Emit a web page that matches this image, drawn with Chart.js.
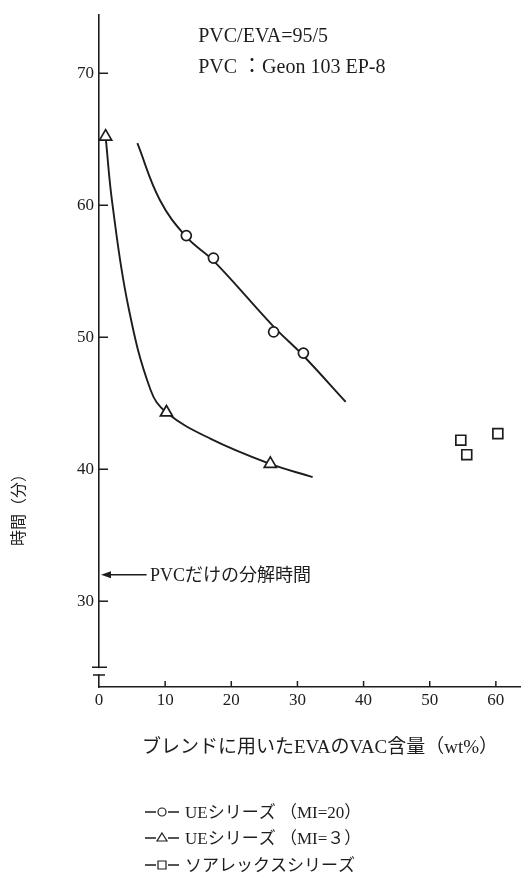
<!DOCTYPE html>
<html>
<head>
<meta charset="utf-8">
<script src="https://cdn.jsdelivr.net/npm/chart.js@4.4.1/dist/chart.umd.min.js"></script>
<style>
  html, body { margin: 0; padding: 0; background: #fff; }
  #wrap { width: 521px; height: 885px; }
</style>
</head>
<body>
<div id="wrap"><canvas id="chart" width="521" height="885"></canvas></div>
<script>
// values
const xTicks = [0, 10, 20, 30, 40, 50, 60];
const yTicks = [30, 40, 50, 60, 70];

// UE series (MI=20): measured points and the drawn curve
const ue20X = [13.2, 17.3, 26.4, 30.9];
const ue20Y = [57.7, 56.0, 50.4, 48.8];
const ue20CurveX = [5.8, 9.2, 13.2, 17.3, 26.4, 30.9, 37.3];
const ue20CurveY = [64.7, 60.4, 57.6, 55.8, 50.8, 48.6, 45.1];

// UE series (MI=3)
const ue3X = [1.0, 10.2, 25.9];
const ue3Y = [65.2, 44.3, 40.4];
const ue3CurveX = [1.0, 2.0, 4.4, 7.8, 10.2, 16.9, 25.9, 32.3];
const ue3CurveY = [65.2, 60.2, 52.4, 46.0, 44.3, 42.3, 40.4, 39.4];

// Soarex series
const solX = [54.7, 55.6, 60.3];
const solY = [42.2, 41.1, 42.7];

// PVC alone decomposition time
const pvcOnly = 32;

const seriesNames = ['UEシリーズ （MI=20）', 'UEシリーズ （MI=３）', 'ソアレックスシリーズ'];
const xTitle = 'ブレンドに用いたEVAのVAC含量（wt%）';
const yTitle = '時間（分）';

const ink = '#1d1d1d';
const serif = '"Liberation Serif", "DejaVu Serif", "Noto Sans CJK JP", serif';
const jp = '"Liberation Serif", "Noto Sans CJK JP", sans-serif';

const pts = (xs, ys) => xs.map((x, i) => ({ x: x, y: ys[i] }));

function markerSet(label, xs, ys, style, r) {
  return {
    type: 'scatter', label: label, data: pts(xs, ys), order: 0,
    pointStyle: style, pointRadius: r, pointBorderWidth: 1.7,
    pointBackgroundColor: '#fff', pointBorderColor: ink, showLine: false
  };
}
function curveSet(xs, ys) {
  return {
    type: 'line', label: '', data: pts(xs, ys), order: 1,
    borderColor: ink, borderWidth: 1.9, pointRadius: 0,
    tension: 0.4, fill: false
  };
}

// small bits of the figure that Chart.js has no option for
const decor = {
  id: 'decor',
  afterDraw(chart) {
    const ctx = chart.ctx;
    const xs = chart.scales.x, ys = chart.scales.y;
    const a = chart.chartArea;
    ctx.save();
    ctx.strokeStyle = ink;
    ctx.fillStyle = ink;
    ctx.lineWidth = 1.5;

    // inward tick marks
    yTicks.forEach(v => {
      const y = ys.getPixelForValue(v);
      ctx.beginPath(); ctx.moveTo(a.left - 1, y); ctx.lineTo(a.left + 9, y); ctx.stroke();
    });
    xTicks.slice(1).forEach(v => {
      const x = xs.getPixelForValue(v);
      ctx.beginPath(); ctx.moveTo(x, a.bottom); ctx.lineTo(x, a.bottom - 6); ctx.stroke();
    });

    // axis break near the bottom of the time axis
    const b1 = ys.getPixelForValue(25.0), b2 = ys.getPixelForValue(24.4);
    ctx.fillStyle = '#fff';
    ctx.fillRect(a.left - 3, b1 + 1, 6, b2 - b1 - 2);
    ctx.fillStyle = ink;
    ctx.beginPath();
    ctx.moveTo(a.left - 7, b1); ctx.lineTo(a.left + 8, b1);
    ctx.moveTo(a.left - 6, b2); ctx.lineTo(a.left + 6, b2);
    ctx.stroke();

    // arrow for PVC alone
    const ay = ys.getPixelForValue(pvcOnly);
    const ax0 = xs.getPixelForValue(0.3), ax1 = xs.getPixelForValue(7.2);
    ctx.beginPath(); ctx.moveTo(ax0 + 8, ay); ctx.lineTo(ax1, ay); ctx.stroke();
    ctx.beginPath();
    ctx.moveTo(ax0, ay); ctx.lineTo(ax0 + 10, ay - 3.5); ctx.lineTo(ax0 + 10, ay + 3.5);
    ctx.closePath(); ctx.fill();
    ctx.textAlign = 'left';
    ctx.textBaseline = 'middle';
    ctx.font = '18px ' + jp;
    ctx.fillText('PVCだけの分解時間', xs.getPixelForValue(7.7), ay + 1);

    // header notes
    ctx.font = '20px ' + serif;
    ctx.fillText('PVC/EVA=95/5', xs.getPixelForValue(15.0), ys.getPixelForValue(72.8));
    ctx.fillText('PVC ：Geon 103 EP-8', xs.getPixelForValue(15.0), ys.getPixelForValue(70.4));

    // axis titles
    ctx.textAlign = 'center';
    ctx.font = '19px ' + jp;
    ctx.fillText(xTitle, 320, 748);
    ctx.save();
    ctx.translate(20, 506);
    ctx.rotate(-Math.PI / 2);
    ctx.font = '16px ' + jp;
    ctx.fillText(yTitle, 0, 0);
    ctx.restore();

    // legend
    const rows = [814, 840, 867];
    const styles = ['circle', 'triangle', 'rect'];
    ctx.textAlign = 'left';
    ctx.font = '17px ' + jp;
    seriesNames.forEach((name, i) => {
      const y = rows[i], cx = 162;
      ctx.lineWidth = 1.5;
      ctx.beginPath();
      ctx.moveTo(145, y - 2); ctx.lineTo(156, y - 2);
      ctx.moveTo(168, y - 2); ctx.lineTo(179, y - 2);
      ctx.stroke();
      ctx.lineWidth = 1.2;
      ctx.beginPath();
      if (styles[i] === 'circle') ctx.arc(cx, y - 2, 4, 0, Math.PI * 2);
      if (styles[i] === 'triangle') { ctx.moveTo(cx, y - 7); ctx.lineTo(cx + 5, y + 1); ctx.lineTo(cx - 5, y + 1); ctx.closePath(); }
      if (styles[i] === 'rect') ctx.rect(cx - 4, y - 6, 8, 8);
      ctx.stroke();
      ctx.fillText(name, 185, y);
    });
    ctx.restore();
  }
};

new Chart(document.getElementById('chart'), {
  data: {
    datasets: [
      markerSet(seriesNames[0], ue20X, ue20Y, 'circle', 5),
      markerSet(seriesNames[1], ue3X, ue3Y, 'triangle', 7),
      markerSet(seriesNames[2], solX, solY, 'rect', 7),
      curveSet(ue20CurveX, ue20CurveY),
      curveSet(ue3CurveX, ue3CurveY)
    ]
  },
  plugins: [decor],
  options: {
    responsive: false,
    animation: false,
    layout: { autoPadding: false, padding: { top: 11, bottom: 115, left: 0, right: 0 } },
    plugins: { legend: { display: false }, tooltip: { enabled: false } },
    scales: {
      x: {
        type: 'linear', min: 0, max: 63.8,
        afterBuildTicks: s => { s.ticks = xTicks.map(v => ({ value: v })); },
        afterFit: s => { s.height = 83; },
        grid: { display: false, drawTicks: false },
        border: { display: true, color: ink, width: 1.6 },
        ticks: { color: ink, font: { family: serif, size: 17 }, padding: 3, maxRotation: 0, autoSkip: false }
      },
      y: {
        type: 'linear', min: 23.5, max: 74.4,
        afterBuildTicks: s => { s.ticks = yTicks.map(v => ({ value: v })); },
        afterFit: s => { s.width = 99; },
        grid: { display: false, drawTicks: false },
        border: { display: true, color: ink, width: 1.6 },
        ticks: { color: ink, font: { family: serif, size: 17 }, padding: 5 }
      }
    }
  }
});
</script>
</body>
</html>
